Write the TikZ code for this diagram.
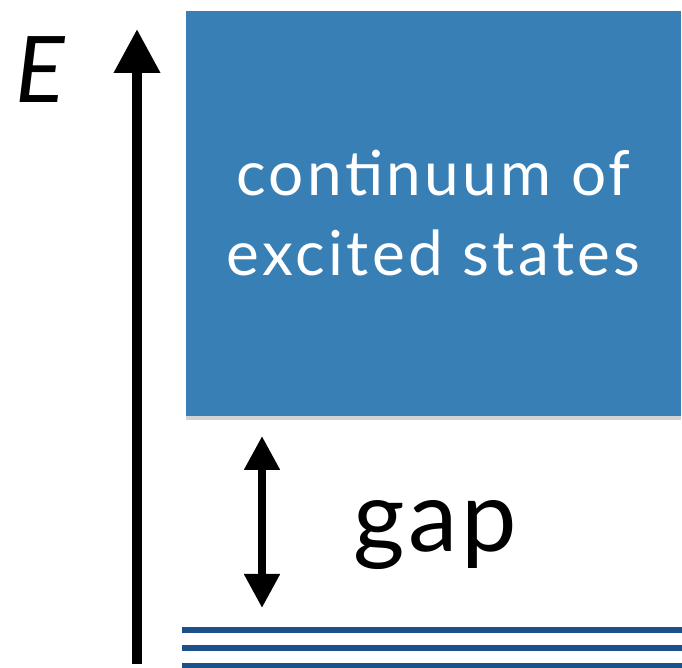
\documentclass[tikz,border=0pt]{standalone}
\usepackage{fontspec}
\setmainfont{Lato}
\newfontfamily\spacedfont[LetterSpace=5.5]{Lato}
\newfontfamily\gapfont[LetterSpace=3.5]{Lato}
\usepackage{tikz}
\usetikzlibrary{arrows.meta,shadows}
\definecolor{contblue}{RGB}{56,127,181}
\definecolor{gsblue}{RGB}{27,80,138}

\begin{document}
\begin{tikzpicture}[
      x=1pt, y=1pt,
      contbox/.style={fill=contblue, draw=none, minimum width=495pt, minimum height=405pt, inner sep=0pt, text=white, align=center, font=\spacedfont\fontsize{62}{80}\selectfont, drop shadow={shadow xshift=0pt, shadow yshift=-4pt, opacity=0.35}},
      axis/.style={line width=10pt, -{Triangle[length=44pt,width=44pt]}},
      gaparrow/.style={line width=8pt, {Triangle[length=34pt,width=34pt]}-{Triangle[length=34pt,width=34pt]}},
      ground/.style={gsblue, line width=5.5pt},
      label/.style={inner sep=0pt, anchor=base}
    ]
      \useasboundingbox (0,0) rectangle (682,668);

      % Continuum of excited states
      \node[contbox] (cont) at (433.5,454.5) {continuum of\\excited states};

      % Ground states
      \coordinate (gs1) at (182,38);
      \coordinate (gs2) at (182,20);
      \coordinate (gs3) at (182,2);
      \draw[ground] (gs1) -- ++(500,0);
      \draw[ground] (gs2) -- ++(500,0);
      \draw[ground] (gs3) -- ++(500,0);

      % Energy axis
      \coordinate (axisbot) at (137,4);
      \coordinate (axistop) at (137,639);
      \draw[axis] (axisbot) -- (axistop);
      \node[label, font=\fontsize{92}{92}\selectfont\itshape] (elabel) at (40,565) {E};

      % Gap
      \coordinate (gaptop) at (262,232);
      \coordinate (gapbot) at (262,60);
      \draw[gaparrow] (gapbot) -- (gaptop);
      \node[label, font=\gapfont\fontsize{99}{99}\selectfont] (gaplabel) at (435,116) {gap};
    \end{tikzpicture}
\end{document}
